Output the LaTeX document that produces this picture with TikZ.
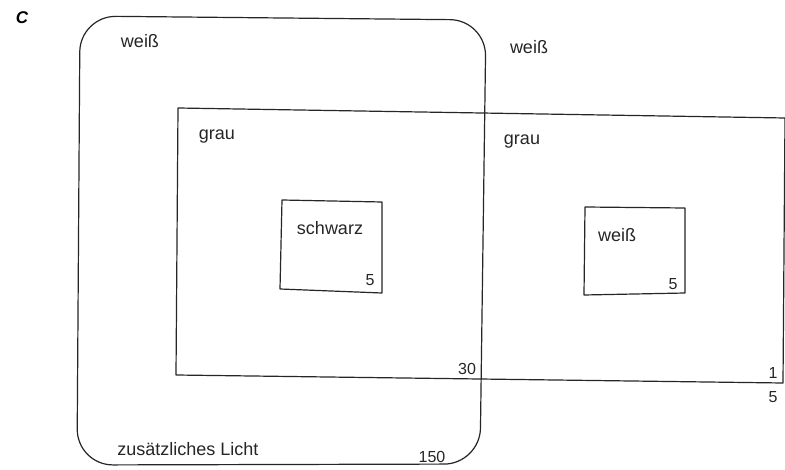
\documentclass[tikz,border=0pt]{standalone}
\usepackage{fontspec}
\setmainfont{Liberation Sans}
\begin{document}
\begin{tikzpicture}[x=1pt,y=-1pt,
  edge/.style={draw=black!85, line width=1.2pt, line join=round},
  lbl/.style={font=\fontsize{18}{19}\selectfont, text=black!85, inner sep=0pt},
  num/.style={font=\fontsize{16}{17}\selectfont, text=black!85, inner sep=0pt}]
\useasboundingbox[fill=white] (0,0) rectangle (785,470);
% outer rounded field
\draw[edge, rounded corners=36pt] (80,16) -- (486,20) -- (480,464) -- (77,465) -- cycle;
% large grey field
\draw[edge] (178,108) -- (785,118) -- (783,383) -- (176,375) -- cycle;
% small squares
\draw[edge] (282,200) -- (382,202) -- (382,293) -- (280,289) -- cycle;
\draw[edge] (585,207) -- (685,208) -- (685,293) -- (584,295) -- cycle;
% labels
\node[font=\bfseries\itshape\fontsize{17}{18}\selectfont, inner sep=0pt] (c) at (22,18) {C};
\node[lbl] (w1) at (140,41) {weiß};
\node[lbl] (w2) at (529,47) {weiß};
\node[lbl] (g1) at (217,137) {grau};
\node[lbl] (g2) at (522,142) {grau};
\node[lbl] (s) at (330,228) {schwarz};
\node[num] (s5) at (370,280) {5};
\node[lbl] (w3) at (617,235) {weiß};
\node[num] (w5) at (673,284) {5};
\node[num] (n30) at (467,369) {30};
\node[num] (n1) at (773,373) {1};
\node[num] (n5) at (773,397) {5};
\node[lbl] (z) at (188,449) {zusätzliches Licht};
\node[num] (n150) at (432,457) {150};
\end{tikzpicture}
\end{document}
